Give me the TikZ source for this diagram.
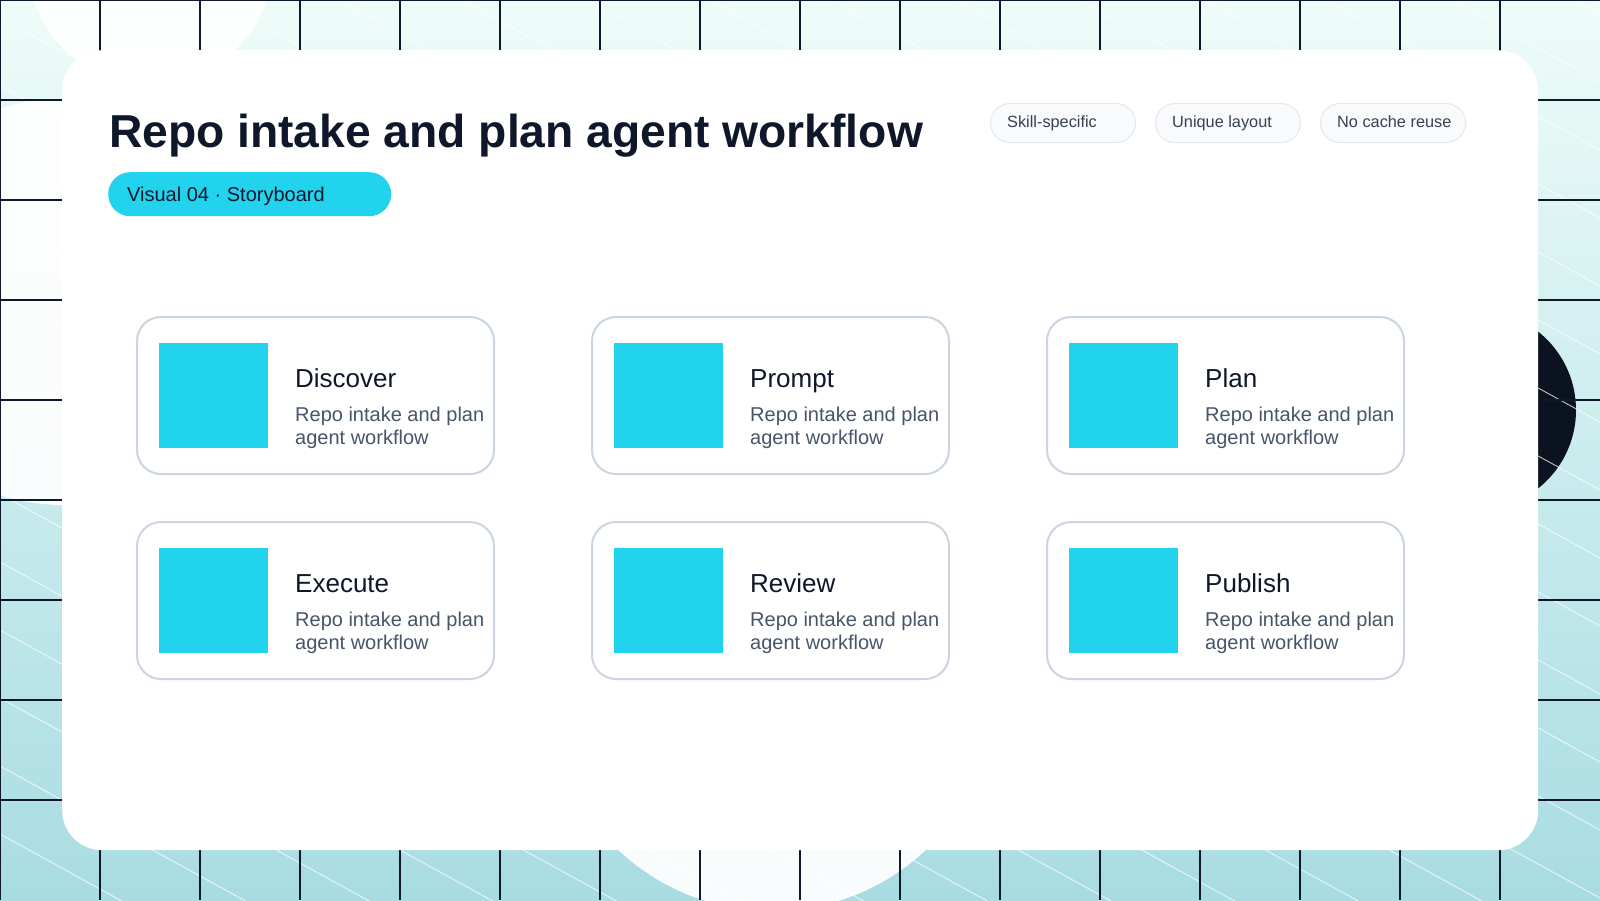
\documentclass[tikz,border=0pt]{standalone}
\usepackage{fontspec}
\setmainfont{Liberation Sans}
\definecolor{ink}{HTML}{0F172A}
\definecolor{slate}{HTML}{475569}
\definecolor{tagtext}{HTML}{374151}
\definecolor{cardline}{HTML}{CBD5E1}
\definecolor{tagline}{HTML}{E2E8F0}
\definecolor{tagfill}{HTML}{F8FAFC}
\definecolor{cyanc}{HTML}{22D3EE}
\definecolor{bgtop}{HTML}{EEFCF9}
\definecolor{bgbottom}{HTML}{A8DCE2}
\definecolor{darkc}{HTML}{0B1220}
\definecolor{gridc}{HTML}{0F172A}
\begin{document}
\begin{tikzpicture}[x=1pt,y=-1pt,
  blob/.style={fill=white, opacity=0.92},
  diag/.style={draw=white, line width=0.9pt, opacity=0.75},
  gridl/.style={draw=gridc, line width=1.5pt},
  card/.style={draw=cardline, line width=2pt, fill=white, rounded corners=24pt,
    minimum width=357pt, minimum height=157pt, anchor=north west, inner sep=0pt},
  sq/.style={fill=cyanc, draw=none, minimum width=109pt, minimum height=105pt,
    anchor=north west, inner sep=0pt},
  ctitle/.style={anchor=base west, inner sep=0pt, font=\fontsize{26}{30}\selectfont, text=ink},
  cdesc/.style={anchor=base west, inner sep=0pt, font=\fontsize{20}{24}\selectfont, text=slate},
  tagbox/.style={anchor=north west, fill=tagfill, draw=tagline, line width=1pt,
    rounded corners=19.5pt, minimum width=145pt, minimum height=39pt, inner sep=0pt},
  tagtxt/.style={anchor=west, inner sep=0pt, text height=12pt, text depth=3.5pt,
    font=\fontsize{16.3}{19}\selectfont, text=tagtext}
]
\useasboundingbox (0,0) rectangle (1600,900);
\begin{scope}
  \clip (0,0) rectangle (1600,900);
  \shade[top color=bgtop, bottom color=bgbottom] (0,0) rectangle (1600,900);
  \fill[blob] (150,-37) circle [radius=122];
  \fill[blob] (63,302) circle [radius=203];
  \fill[blob] (772,687) circle [radius=224];
  \fill[darkc] (1476,410) circle [radius=100];
  \foreach \k in {0,...,26} {
    \draw[diag] (0,{834-68*\k}) -- (1600,{834-68*\k+880});
  }
  \foreach \i in {0,...,15} {
    \draw[gridl] ({\i*100},0) -- ({\i*100},900);
  }
  \foreach \j in {0,...,8} {
    \draw[gridl] (0,{\j*100}) -- (1600,{\j*100});
  }
\end{scope}

\node[fill=white, draw=none, rounded corners=40pt, minimum width=1476pt,
  minimum height=800pt, anchor=north west, inner sep=0pt] (panel) at (62,50) {};

\node[anchor=base west, inner sep=0pt, font=\fontsize{46.2}{52}\selectfont\bfseries, text=ink]
  (title) at (109,147) {Repo intake and plan agent workflow};

\node[fill=cyanc, rounded corners=22pt, minimum width=283pt, minimum height=44pt,
  anchor=north west, inner sep=0pt] (pill) at (108,172) {};
\node[anchor=base west, inner sep=0pt, font=\fontsize{20}{24}\selectfont, text=ink]
  (pilltext) at (127,201) {Visual 04 · Storyboard};

\node[tagbox] (tag1) at (990,103) {};
\node[tagtxt] (tagt1) at ([xshift=17pt]tag1.west) {Skill-specific};
\node[tagbox] (tag2) at (1155,103) {};
\node[tagtxt] (tagt2) at ([xshift=17pt]tag2.west) {Unique layout};
\node[tagbox] (tag3) at (1320,103) {};
\node[tagtxt] (tagt3) at ([xshift=17pt]tag3.west) {No cache reuse};

\foreach \x/\y/\t/\n in {136/316/Discover/a, 591/316/Prompt/b, 1046/316/Plan/c,
                         136/521/Execute/d, 591/521/Review/e, 1046/521/Publish/f} {
  \node[card] (card\n) at (\x,\y) {};
  \node[sq] (sq\n) at ({\x+23},{\y+27}) {};
  \node[ctitle] (t\n) at ({\x+159},{\y+71}) {\t};
  \node[cdesc] (da\n) at ({\x+159},{\y+105.5}) {Repo intake and plan};
  \node[cdesc] (db\n) at ({\x+159},{\y+128.5}) {agent workflow};
}
\end{tikzpicture}
\end{document}
